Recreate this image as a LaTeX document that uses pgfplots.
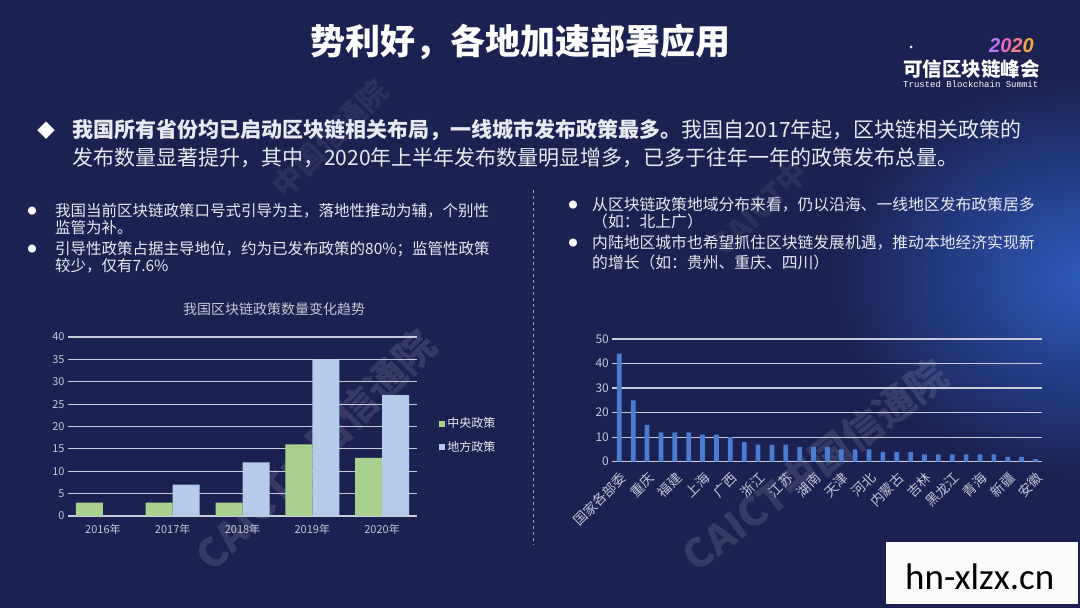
\documentclass[border=0pt]{standalone}
\usepackage{fontspec}
\setmainfont{Noto Sans CJK SC}
\newfontfamily\monofont{Liberation Mono}
\newfontfamily\calfont{Carlito}
\newfontfamily\libsans{Liberation Sans}
\usepackage{pgfplots}
\pgfplotsset{compat=1.18}
\definecolor{bg}{HTML}{1B2150}
\definecolor{glow}{HTML}{2D5BBE}
\definecolor{txt}{HTML}{E8EAF2}
\definecolor{tickc}{HTML}{C4C8D6}
\definecolor{gridc}{HTML}{C9CDDA}
\definecolor{gbar}{HTML}{A9D18E}
\definecolor{bbar}{HTML}{B4CBEA}
\definecolor{rbar}{HTML}{4C7CCF}
\begin{document}
\begin{tikzpicture}
\useasboundingbox (0,0) rectangle (1080pt,608pt);
\fill[bg] (0,0) rectangle (1080pt,608pt);
\begin{scope}
\clip (0,0) rectangle (1080pt,608pt);
\shade[inner color=glow, outer color=bg] (1090pt,330pt) ellipse (260pt and 200pt);
\node[rotate=45, opacity=0.12, text=white, font=\bfseries\fontsize{40}{40}\selectfont] at (315pt,158pt) {CAICT中国信通院};
\node[rotate=37, opacity=0.12, text=white, font=\bfseries\fontsize{40}{40}\selectfont] at (815pt,143pt) {CAICT中国信通院};
\node[rotate=45, opacity=0.07, text=white, font=\bfseries\fontsize{30}{30}\selectfont] at (330pt,470pt) {中国信通院};
\node[rotate=45, opacity=0.07, text=white, font=\bfseries\fontsize{30}{30}\selectfont] at (760pt,400pt) {CAICT中};
\end{scope}

% title
\node[anchor=base, text=white, inner sep=0, font=\bfseries\fontsize{35}{35}\selectfont] at (520pt,553pt) {势利好，各地加速部署应用};

% logo
\node[anchor=base west, inner sep=0, font=\libsans\bfseries\itshape\fontsize{20}{20}\selectfont] at (989pt,555pt) {\textcolor[HTML]{B978F0}{2}\textcolor[HTML]{EC68C0}{0}\textcolor[HTML]{F27E86}{2}\textcolor[HTML]{F2A640}{0}};
\node[anchor=base west, inner sep=0, text=white, font=\bfseries\fontsize{19.5}{19.5}\selectfont] at (903pt,531pt) {可信区块链峰会};
\node[anchor=base west, inner sep=0, text=white, font=\monofont\fontsize{9}{9}\selectfont] at (903pt,520pt) {Trusted Blockchain Summit};
\fill[white] (911pt,561pt) circle (1.5pt);

% main paragraph
\node[anchor=base west, inner sep=0, text=white, font=\fontsize{18}{18}\selectfont] at (37pt,470pt) {◆};
\node[anchor=base west, inner sep=0, text=txt, font=\fontsize{21}{21}\selectfont] at (72pt,470pt) {\textbf{我国所有省份均已启动区块链相关布局，一线城市发布政策最多。}我国自2017年起，区块链相关政策的};
\node[anchor=base west, inner sep=0, text=txt, font=\fontsize{21}{21}\selectfont] at (72pt,442pt) {发布数量显著提升，其中，2020年上半年发布数量明显增多，已多于往年一年的政策发布总量。};

% left bullets
\node[anchor=center, inner sep=0, text=white, font=\fontsize{9}{9}\selectfont] at (32pt,397pt) {●};
\node[anchor=center, inner sep=0, text=white, font=\fontsize{9}{9}\selectfont] at (32pt,359pt) {●};
\node[anchor=base west, inner sep=0, text=txt, font=\fontsize{15.5}{15.5}\selectfont] at (55pt,391pt) {我国当前区块链政策口号式引导为主，落地性推动为辅，个别性};
\node[anchor=base west, inner sep=0, text=txt, font=\fontsize{15.5}{15.5}\selectfont] at (55pt,374pt) {监管为补。};
\node[anchor=base west, inner sep=0, text=txt, font=\fontsize{15.5}{15.5}\selectfont] at (55pt,353pt) {引导性政策占据主导地位，约为已发布政策的80\%；监管性政策};
\node[anchor=base west, inner sep=0, text=txt, font=\fontsize{15.5}{15.5}\selectfont] at (55pt,336pt) {较少，仅有7.6\%};

% right bullets
\node[anchor=center, inner sep=0, text=white, font=\fontsize{9}{9}\selectfont] at (573pt,403pt) {●};
\node[anchor=center, inner sep=0, text=white, font=\fontsize{9}{9}\selectfont] at (573pt,365pt) {●};
\node[anchor=base west, inner sep=0, text=txt, font=\fontsize{15.8}{15.8}\selectfont] at (592pt,397pt) {从区块链政策地域分布来看，仍以沿海、一线地区发布政策居多};
\node[anchor=base west, inner sep=0, text=txt, font=\fontsize{15.8}{15.8}\selectfont] at (592pt,380pt) {（如：北上广）};
\node[anchor=base west, inner sep=0, text=txt, font=\fontsize{15.8}{15.8}\selectfont] at (592pt,359pt) {内陆地区城市也希望抓住区块链发展机遇，推动本地经济实现新};
\node[anchor=base west, inner sep=0, text=txt, font=\fontsize{15.8}{15.8}\selectfont] at (592pt,339pt) {的增长（如：贵州、重庆、四川）};

% divider
\draw[dashed, color=gray!70, line width=0.6pt] (533pt,418pt) -- (533pt,63pt);

% left chart title
\node[anchor=center, text=tickc, font=\fontsize{14}{14}\selectfont] at (274pt,299pt) {我国区块链政策数量变化趋势};

\begin{axis}[
  at={(68pt,92pt)}, anchor=south west, scale only axis,
  width=349pt, height=179pt,
  ybar=0pt, bar width=27pt,
  ymin=0, ymax=40, xmin=-0.5, xmax=4.5,
  ytick={0,5,...,40}, xtick={0,1,2,3,4},
  xticklabels={2016年,2017年,2018年,2019年,2020年},
  axis line style={draw=none}, major tick style={draw=none},
  ymajorgrids, grid style={gridc, line width=1.2pt},
  tick label style={text=tickc, font=\fontsize{11}{11}\selectfont},
  /pgf/number format/assume math mode=true,
  legend style={at={(1.055,0.45)}, anchor=west, draw=none, fill=none, text=txt,
    font=\fontsize{12}{12}\selectfont, row sep=8pt},
  legend cell align=left,
  legend image code/.code={\fill[#1] (0pt,-3pt) rectangle (6pt,3pt);},
]
\addplot[fill=gbar, draw=none] coordinates {(0,3) (1,3) (2,3) (3,16) (4,13)};
\addplot[fill=bbar, draw=none] coordinates {(1,7) (2,12) (3,35) (4,27)};
\legend{中央政策,地方政策}
\end{axis}

\begin{axis}[
  at={(612.4pt,146.3pt)}, anchor=south west, scale only axis,
  width=430pt, height=122.7pt,
  ybar, bar width=4.7pt,
  ymin=0, ymax=50, xmin=-0.5, xmax=30.5,
  ytick={0,10,...,50}, xtick={0,2,...,30},
  xticklabels={国家各部委,重庆,福建,上海,广西,浙江,江苏,湖南,天津,河北,内蒙古,吉林,黑龙江,青海,新疆,安徽},
  axis line style={draw=none}, major tick style={draw=none},
  ymajorgrids, grid style={gridc, line width=1.2pt},
  tick label style={text=tickc},
  yticklabel style={font=\fontsize{12}{12}\selectfont},
  xticklabel style={rotate=45, anchor=north east, font=\fontsize{13.5}{13.5}\selectfont},
  /pgf/number format/assume math mode=true,
]
\addplot[fill=rbar, draw=none] coordinates {
 (0,44) (1,25) (2,15) (3,12) (4,12) (5,12) (6,11) (7,11) (8,10) (9,8)
 (10,7) (11,7) (12,7) (13,6) (14,6) (15,6) (16,5) (17,5) (18,5) (19,4)
 (20,4) (21,4) (22,3) (23,3) (24,3) (25,3) (26,3) (27,3) (28,2) (29,2) (30,1)};
\end{axis}

% site box
\fill[white!97!gray] (886pt,4pt) rectangle (1078pt,66pt);
\node[anchor=base west, inner sep=0, text=black, font=\calfont\fontsize{37}{37}\selectfont] at (905pt,18.7pt) {hn-xlzx.cn};
\end{tikzpicture}
\end{document}
